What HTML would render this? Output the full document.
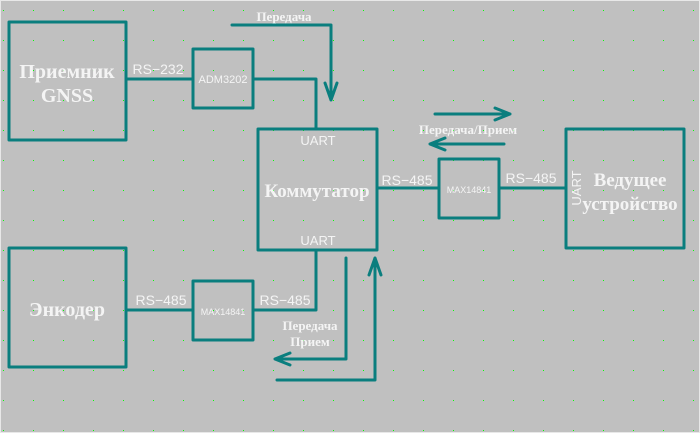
<!DOCTYPE html>
<html><head><meta charset="utf-8"><style>
html,body{margin:0;padding:0;background:#c0c0c0;}
svg{display:block}
.b{font-family:"Liberation Serif",serif;font-weight:bold;fill:#f4f4f4;}
.s{font-family:"Liberation Sans",sans-serif;fill:#f4f4f4;}
</style></head><body>
<svg width="700" height="433" viewBox="0 0 700 433" xmlns="http://www.w3.org/2000/svg">
<defs><pattern id="g" width="30" height="30" patternUnits="userSpaceOnUse" x="3" y="10"><rect width="1" height="1" fill="#00ff00" shape-rendering="crispEdges"/></pattern></defs>
<rect width="700" height="433" fill="#c0c0c0"/>
<rect width="700" height="433" fill="url(#g)"/>
<rect x="0.5" y="0.5" width="699" height="432" fill="none" stroke="#e8e8e8"/>
<g fill="none" stroke="#0a7e7e" stroke-width="3" stroke-linejoin="round" stroke-linecap="round">
<rect x="9" y="22" width="117" height="118"/>
<rect x="193" y="49" width="60" height="59"/>
<rect x="258" y="129" width="119" height="121"/>
<rect x="439" y="159" width="60" height="59"/>
<rect x="566" y="129" width="118" height="119"/>
<rect x="9" y="248" width="117" height="119"/>
<rect x="193" y="281" width="60" height="59"/>
<path d="M126 79H193M253 79H316V129"/>
<path d="M377 188H439M499 188H566"/>
<path d="M126 310H193M253 310H316V250"/>
<path d="M232 25H331V100M325 83L331 100L337 83"/>
<path d="M435 114H510M495 108L510 114L495 120"/>
<path d="M504 144H430M445 138L430 144L445 150"/>
<path d="M346 258V359H275M290 353L275 359L290 365"/>
<path d="M277 380H375V258M369 275L375 258L381 275"/>
</g>
<text class="b" x="67" y="78" font-size="20" text-anchor="middle">Приемник</text>
<text class="b" x="67" y="102" font-size="20" text-anchor="middle">GNSS</text>
<text class="b" x="317" y="197" font-size="19" text-anchor="middle">Коммутатор</text>
<text class="b" x="630" y="186" font-size="19" text-anchor="middle">Ведущее</text>
<text class="b" x="630" y="210" font-size="19" text-anchor="middle">устройство</text>
<text class="b" x="67" y="316" font-size="20" text-anchor="middle">Энкодер</text>
<text class="b" x="284" y="21" font-size="13" text-anchor="middle">Передача</text>
<text class="b" x="468" y="134" font-size="13" text-anchor="middle">Передача/Прием</text>
<text class="b" x="310" y="330" font-size="13" text-anchor="middle">Передача</text>
<text class="b" x="310" y="346" font-size="13" text-anchor="middle">Прием</text>
<text class="s" x="158" y="74" font-size="14" text-anchor="middle">RS−232</text>
<text class="s" x="407" y="185" font-size="14" text-anchor="middle">RS−485</text>
<text class="s" x="531" y="183" font-size="14" text-anchor="middle">RS−485</text>
<text class="s" x="161" y="305" font-size="14" text-anchor="middle">RS−485</text>
<text class="s" x="285" y="305" font-size="14" text-anchor="middle">RS−485</text>
<text class="s" x="318" y="145" font-size="13" text-anchor="middle">UART</text>
<text class="s" x="318" y="245" font-size="13" text-anchor="middle">UART</text>
<text class="s" x="0" y="0" font-size="13" text-anchor="middle" transform="translate(581,188) rotate(-90)">UART</text>
<text class="s" x="223" y="83" font-size="11" text-anchor="middle" fill="#e8e8e8">ADM3202</text>
<text class="s" x="469" y="193" font-size="9" text-anchor="middle">MAX14841</text>
<text class="s" x="223" y="315" font-size="9" text-anchor="middle">MAX14841</text>
</svg>
</body></html>
